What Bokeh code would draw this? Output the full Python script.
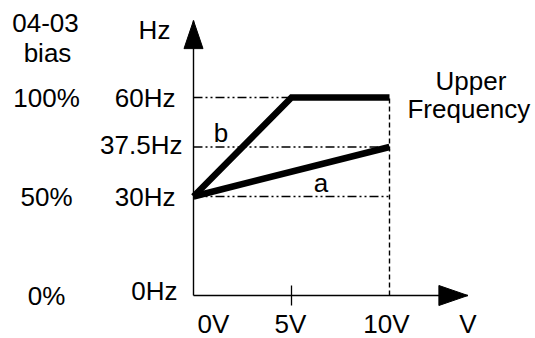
from bokeh.plotting import figure
from bokeh.models import Range1d
from bokeh.core.properties import value
from bokeh.embed import file_html
from bokeh.resources import INLINE

# ---- data (diagram values) ----
volts = [0, 5, 10]
volt_labels = ["0V", "5V", "10V"]
freq_levels = [0, 30, 45, 60]          # drawn levels (schematic, 37.5Hz drawn above scale)
freq_labels = ["0Hz", "30Hz", "37.5Hz", "60Hz"]
bias_levels = [0, 30, 60]
bias_labels = ["0%", "50%", "100%"]
curve_a_v = [0, 10]
curve_a_f = [30, 45]
curve_b_v = [0, 5, 10]
curve_b_f = [30, 60, 60]
guide_levels = [30, 45, 60]
v_max = 10
f_top = 60
axis_v_end = 14.0
axis_f_end = 83.3

# ---- layout ----
W, H = 535, 338
PX_V = 19.6   # px per volt
PX_F = 3.3    # px per Hz
ORX, ORY = 193, 295  # origin in frame px (from top-left)

p = figure(width=W, height=H, output_backend="svg", toolbar_location=None,
           x_axis_type=None, y_axis_type=None, min_border=0,
           x_range=Range1d(-ORX / PX_V, (W - ORX) / PX_V),
           y_range=Range1d(-(H - ORY) / PX_F, ORY / PX_F))
p.outline_line_color = None
p.xgrid.visible = False
p.ygrid.visible = False
p.background_fill_color = "white"
p.border_fill_color = "white"

FONT = value("Liberation Sans")
FS = "26px"

# guide lines (dash-dot-dot)
for lv in guide_levels:
    p.line([0, v_max], [lv, lv], line_color="black", line_width=1.5,
           line_dash="9 3 2 3 2 3")
# vertical dashed at 10V
p.line([v_max, v_max], [0, f_top], line_color="black", line_width=1.4, line_dash="5 3")

# axes
p.line([0, axis_v_end], [0, 0], line_color="black", line_width=1.4)
p.line([0, 0], [0, axis_f_end], line_color="black", line_width=1.4)
# 5V tick
p.segment(x0=[5], y0=[-10 / PX_F], x1=[5], y1=[10 / PX_F], line_color="black", line_width=1.3)

# arrow heads
hl, hw = 29, 10
p.patch([axis_v_end, axis_v_end - hl / PX_V, axis_v_end - hl / PX_V],
        [0, hw / PX_F, -hw / PX_F], color="black")
hl2, hw2 = 28, 9.5
p.patch([0, hw2 / PX_V, -hw2 / PX_V],
        [axis_f_end, axis_f_end - hl2 / PX_F, axis_f_end - hl2 / PX_F], color="black")

# curves
p.line(curve_a_v, curve_a_f, line_color="black", line_width=6.5, line_cap="butt")
p.line(curve_b_v, curve_b_f, line_color="black", line_width=6.5, line_cap="butt",
       line_join="miter")

# y tick labels
p.text(x=[0] * len(freq_levels), y=freq_levels, text=freq_labels, text_font=FONT,
       text_font_size=FS, text_align="right", text_baseline="middle",
       x_offset=[-16, -18, -11, -18], y_offset=[-5, 0, -2, 0], text_color="black")
# bias labels
p.text(x=[0] * len(bias_levels), y=bias_levels, text=bias_labels, text_font=FONT,
       text_font_size=FS, text_align="center", text_baseline="middle",
       x_offset=-147, text_color="black")
# x tick labels
p.text(x=volts + [axis_v_end], y=[0] * (len(volts) + 1), text=volt_labels + ["V"],
       text_font=FONT, text_font_size=FS, text_align="center", text_baseline="middle",
       x_offset=[20, -1, -3, 0], y_offset=28, text_color="black")
# axis title Hz
p.text(x=[0], y=[axis_f_end], text=["Hz"], text_font=FONT, text_font_size=FS,
       text_align="center", text_baseline="middle", x_offset=-39, y_offset=9,
       text_color="black")
# 04-03 bias header
p.text(x=[0, 0], y=[axis_f_end, axis_f_end], text=["04-03", "bias"], text_font=FONT,
       text_font_size=FS, text_align="center", text_baseline="middle",
       x_offset=[-148, -146], y_offset=[2, 32], text_color="black")
# curve labels
p.text(x=[curve_a_v[1] / 2 + 1.5], y=[curve_a_f[0]], text=["a"], text_font=FONT,
       text_font_size=FS, text_align="center", text_baseline="middle", y_offset=-14,
       text_color="black")
p.text(x=[1.4], y=[guide_levels[1]], text=["b"], text_font=FONT,
       text_font_size=FS, text_align="center", text_baseline="middle", y_offset=-14,
       text_color="black")
# Upper Frequency
p.text(x=[axis_v_end, axis_v_end], y=[f_top, f_top], text=["Upper", "Frequency"],
       text_font=FONT, text_font_size=FS, text_align="center", text_baseline="middle",
       x_offset=[3, 1], y_offset=[-17, 11], text_color="black")

open("out.html", "w").write(file_html(p, INLINE))
